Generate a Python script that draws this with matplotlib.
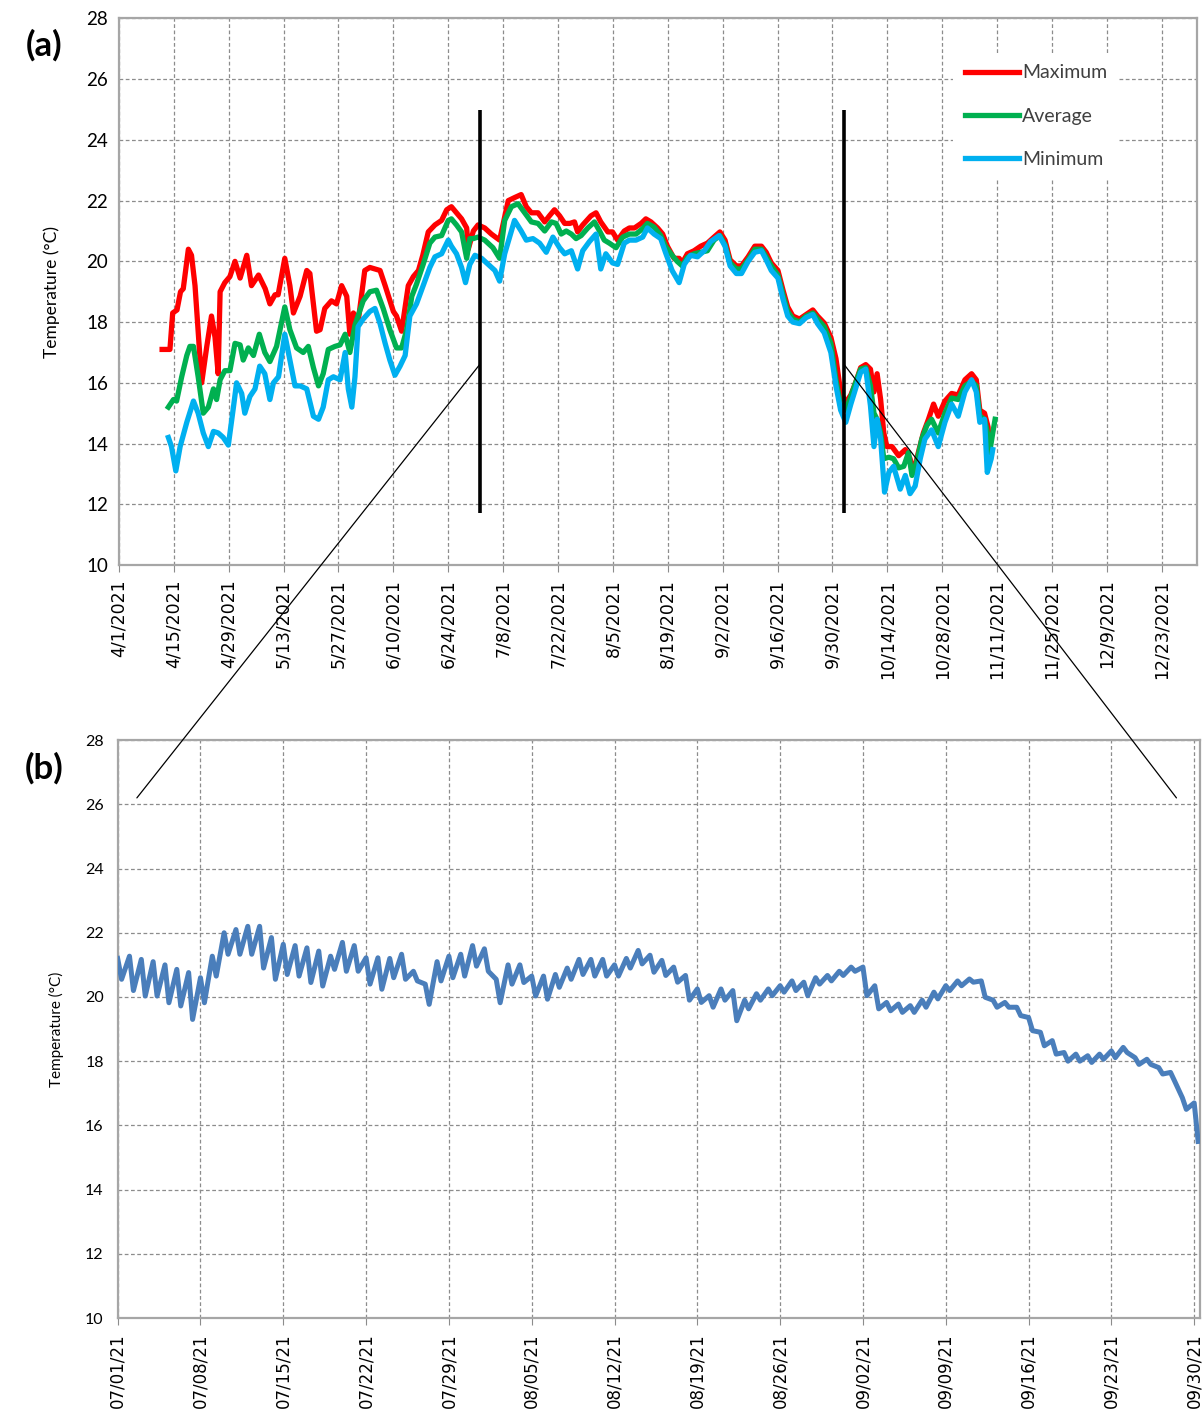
import numpy as np
import pandas as pd
import matplotlib
matplotlib.use('Agg')
import matplotlib.pyplot as plt
import matplotlib.dates as mdates
from matplotlib.patches import ConnectionPatch
from matplotlib.ticker import FuncFormatter

# ---- panel (a): daily max / avg / min, day offsets from 4/1/2021 ----
start_a = pd.Timestamp('2021-04-01')

max_days = [11.0, 13.0, 13.7, 14.8, 15.7, 16.4, 17.7, 18.5, 19.4, 21.1, 22.4, 23.6, 24.5, 25.3, 25.8, 27.0, 28.3,
            29.6, 30.9, 32.6, 33.8, 35.6, 37.3, 38.5, 39.8, 40.6, 42.3, 43.6, 44.5, 46.2, 47.9, 48.7, 50.4, 51.3,
            52.5, 54.2, 55.5, 56.8, 58.1, 58.9, 59.8, 61.0, 62.7, 64.0, 66.6, 67.9, 70.0, 70.8, 72.1, 73.8, 75.1,
            76.4, 77.5, 78.9, 80.6, 82.3, 83.6, 84.8, 86.1, 87.4, 88.7, 89.1, 90.4, 91.6, 93.3, 95.0, 97.1, 99.3,
            100.9, 102.6, 103.9, 105.2, 106.9, 108.6, 109.8, 111.1, 112.4, 113.7, 115.0, 116.2, 117.0, 118.3,
            120.4, 121.7, 122.9, 124.7, 125.9, 127.2, 128.9, 130.2, 131.5, 133.2, 134.4, 135.7, 137.4, 138.7,
            139.9, 141.6, 142.9, 143.7, 145.0, 146.7, 148.4, 150.1, 151.8, 153.3, 154.6, 155.9, 157.5, 158.8,
            160.5, 162.2, 163.9, 165.1, 166.4, 168.1, 169.4, 170.6, 171.9, 173.6, 175.3, 177.0, 178.2, 179.9,
            181.6, 182.9, 184.1, 185.4, 186.7, 187.9, 189.2, 190.5, 191.7, 192.6, 193.4, 194.3, 195.1, 195.9,
            197.2, 198.9, 200.6, 201.8, 202.7, 203.9, 205.2, 206.5, 207.8, 209.0, 210.7, 212.4, 214.1, 215.8,
            217.5, 218.7, 219.6, 220.8, 221.7, 222.1]
max_vals = [17.1, 17.1, 18.3, 18.4, 19.0, 19.1, 20.4, 20.2, 19.2, 16.0, 17.2, 18.2, 17.5, 16.3, 19.0, 19.3, 19.5,
            20.0, 19.45, 20.2, 19.2, 19.55, 19.1, 18.6, 18.9, 18.9, 20.1, 19.2, 18.3, 18.85, 19.7, 19.6, 17.7, 17.75,
            18.45, 18.7, 18.6, 19.2, 18.85, 17.6, 18.3, 18.0, 19.7, 19.8, 19.7, 19.2, 18.35, 18.2, 17.7, 19.2, 19.5,
            19.7, 20.2, 20.97, 21.2, 21.35, 21.7, 21.8, 21.6, 21.4, 21.1, 20.4, 21.0, 21.2, 21.1, 20.9, 20.7, 22.0,
            22.1, 22.2, 21.8, 21.6, 21.6, 21.3, 21.5, 21.7, 21.5, 21.25, 21.25, 21.3, 20.97, 21.2,
            21.5, 21.6, 21.3, 20.97, 20.97, 20.7, 21.0, 21.1, 21.1, 21.25, 21.4, 21.3, 21.1, 20.9,
            20.5, 20.1, 20.1, 19.95, 20.25, 20.35, 20.5, 20.6, 20.8, 20.97, 20.7, 20.05, 19.85, 19.85,
            20.15, 20.5, 20.5, 20.3, 19.95, 19.7, 19.05, 18.5, 18.2, 18.1, 18.25, 18.4, 18.2, 17.97,
            17.5, 16.8, 15.7, 15.35, 15.6, 16.0, 16.5, 16.6, 16.45, 15.7, 16.3, 15.45, 14.35, 13.9,
            13.9, 13.6, 13.8, 13.5, 13.05, 13.7, 14.35, 14.8, 15.3, 14.9, 15.4, 15.65, 15.6, 16.1,
            16.3, 16.1, 15.1, 15.0, 14.55, 13.9]

avg_days = [12.6, 13.9, 14.7, 16.0, 17.3, 18.1, 19.0, 20.2, 21.5, 22.8, 24.1, 24.9, 25.8, 27.0, 28.3, 29.6, 30.9,
            31.7, 33.0, 34.3, 35.8, 37.2, 38.5, 40.2, 42.3, 43.6, 45.3, 47.0, 48.3, 49.6, 50.9, 52.1, 53.4, 55.1,
            56.4, 57.7, 58.9, 60.2, 62.3, 64.0, 65.7, 67.4, 69.1, 70.8, 72.1, 73.4, 74.7, 75.9, 77.6, 79.3, 80.6,
            82.3, 84.0, 84.8, 86.1, 87.4, 88.7, 89.5, 90.4, 91.6, 93.3, 95.4, 97.1, 98.4, 100.1, 101.8, 103.5,
            105.2, 106.9, 108.6, 110.3, 111.5, 112.8, 114.1, 115.4, 116.6, 117.9, 119.6, 121.3, 122.6, 123.8,
            125.1, 126.8, 128.5, 130.2, 131.9, 133.6, 134.8, 136.5, 138.2, 139.4, 141.1, 142.4, 143.7, 145.0,
            146.7, 148.4, 150.1, 151.8, 153.3, 154.6, 155.9, 157.5, 158.8, 160.5, 162.2, 163.9, 165.1, 166.4,
            168.1, 169.4, 170.6, 171.9, 173.6, 175.3, 177.0, 178.2, 179.9, 181.6, 182.9, 184.1, 185.4, 186.7,
            187.9, 189.2, 190.5, 191.7, 192.6, 193.4, 194.3, 195.1, 196.4, 197.6, 198.9, 200.2, 201.4, 202.3,
            203.5, 204.8, 206.1, 207.3, 209.0, 210.7, 212.4, 214.1, 215.8, 217.5, 218.7, 219.6, 220.8, 221.7,
            222.1, 222.9, 223.5]
avg_vals = [15.2, 15.45, 15.4, 16.2, 16.9, 17.2, 17.2, 16.2, 15.0, 15.2, 15.8, 15.45, 16.1, 16.4, 16.4, 17.3, 17.25,
            16.75, 17.15, 16.9, 17.6, 17.0, 16.7, 17.2, 18.5, 17.75, 17.15, 17.0, 17.2, 16.5, 15.9, 16.3, 17.1, 17.2,
            17.25, 17.6, 17.0, 17.9, 18.7, 19.0, 19.05, 18.45, 17.75, 17.15, 17.15, 17.75, 18.85, 19.25, 19.9, 20.6,
            20.8, 20.85, 21.35, 21.4, 21.2, 20.97, 20.1, 20.75, 20.75, 20.8, 20.7, 20.45, 20.1, 21.35, 21.8, 21.9,
            21.6, 21.3, 21.25, 21.0, 21.3, 21.25, 20.9, 21.0, 20.9, 20.75, 20.85, 21.1, 21.3, 21.0, 20.7,
            20.6, 20.45, 20.8, 20.9, 20.9, 21.08, 21.25, 21.13, 20.85, 20.5, 20.2, 20.0, 19.85, 20.13,
            20.25, 20.3, 20.35, 20.7, 20.85, 20.55, 19.95, 19.75, 19.75, 20.05, 20.4, 20.4, 20.15, 19.85,
            19.55, 18.9, 18.35, 18.1, 18.0, 18.2, 18.3, 18.1, 17.85, 17.3, 16.1, 15.25, 15.1, 15.55,
            16.0, 16.45, 16.5, 15.9, 15.0, 14.8, 14.35, 13.5, 13.55, 13.5, 13.2, 13.25, 13.7, 12.95,
            13.4, 14.15, 14.6, 14.8, 14.35, 15.0, 15.5, 15.45, 15.9, 16.05, 15.9, 14.9, 14.8, 14.25,
            13.7, 14.35, 14.8]

min_days = [12.6, 13.4, 14.5, 15.6, 17.3, 19.0, 20.2, 21.5, 22.8, 24.1, 25.3, 26.6, 27.9, 29.2, 30.0, 31.3, 32.1,
            33.4, 34.7, 35.9, 37.2, 38.5, 39.4, 40.7, 42.3, 43.6, 44.9, 46.2, 47.9, 49.6, 50.9, 52.1, 53.4, 54.7,
            56.4, 57.7, 58.5, 59.4, 60.2, 61.0, 62.3, 64.0, 65.3, 66.6, 67.9, 69.1, 70.4, 71.7, 73.0, 74.2, 75.9,
            77.6, 79.3, 80.6, 82.3, 84.0, 84.8, 86.1, 87.4, 88.4, 89.5, 90.8, 92.5, 94.2, 95.9, 97.1, 98.4, 100.9,
            102.6, 103.9, 105.6, 107.3, 109.0, 110.7, 112.4, 113.7, 115.4, 117.0, 118.3, 120.0, 121.7, 122.9,
            124.2, 125.9, 127.2, 128.9, 130.2, 131.9, 133.6, 134.8, 136.5, 138.2, 139.4, 141.1, 142.9, 144.2,
            145.8, 147.6, 149.3, 150.9, 153.1, 154.6, 155.9, 157.5, 158.8, 160.5, 162.2, 163.9, 165.1, 166.4,
            168.1, 169.4, 170.6, 171.9, 173.6, 175.3, 177.0, 178.2, 179.9, 181.6, 182.9, 184.1, 185.4, 186.7,
            187.9, 189.2, 190.5, 191.7, 192.6, 193.4, 194.3, 195.3, 196.4, 197.6, 199.3, 200.6, 201.8, 203.1,
            204.4, 205.6, 207.3, 209.0, 210.7, 212.4, 214.1, 215.8, 217.5, 218.7, 219.6, 220.8, 221.5, 222.5,
            222.9]
min_vals = [14.2, 13.9, 13.1, 13.9, 14.7, 15.4, 15.0, 14.35, 13.9, 14.4, 14.35, 14.2, 13.95, 15.2, 16.0, 15.65, 15.0,
            15.55, 15.8, 16.55, 16.3, 15.45, 16.0, 16.2, 17.6, 16.75, 15.9, 15.9, 15.8, 14.9, 14.8, 15.2, 16.1, 16.2,
            16.1, 17.0, 15.8, 15.2, 16.2, 17.85, 18.1, 18.35, 18.45, 17.95, 17.3, 16.75, 16.25, 16.55, 16.9, 18.2, 18.6,
            19.2, 19.8, 20.15, 20.25, 20.7, 20.5, 20.25, 19.8, 19.3, 19.9, 20.2, 20.1, 19.9, 19.7, 19.35, 20.25, 21.35,
            21.0, 20.7, 20.75, 20.6, 20.3, 20.8, 20.45, 20.25, 20.35, 19.75, 20.35, 20.65, 20.9, 19.75,
            20.25, 19.95, 19.9, 20.6, 20.7, 20.7, 20.8, 21.1, 20.9, 20.75, 20.3, 19.7, 19.3, 19.9,
            20.2, 20.15, 20.35, 20.65, 20.85, 20.5, 19.85, 19.6, 19.6, 20.0, 20.3, 20.35, 20.05, 19.7,
            19.45, 18.75, 18.2, 18.0, 17.95, 18.15, 18.25, 17.95, 17.65, 17.0, 15.9, 15.1, 14.7, 15.3,
            15.8, 16.35, 16.45, 15.25, 13.9, 14.8, 14.15, 12.4, 13.05, 13.25, 12.5, 12.95, 12.35, 12.6,
            13.5, 14.15, 14.45, 13.9, 14.7, 15.3, 14.9, 15.7, 16.1, 15.7, 14.7, 14.8, 13.05, 13.5,
            13.8]

# ---- panel (b): 7/1/21 - 9/30/21, daily high / low of the fine-resolution record ----
start_b = pd.Timestamp('2021-07-01')
peak_hour = 0
dip_hour = 8
b_hi = [21.2, 21.27, 21.17, 21.1, 21.0, 20.86, 20.76, 20.6, 21.27, 22.0,
        22.1, 22.2, 22.2, 21.85, 21.64, 21.6, 21.53, 21.43, 21.27, 21.7,
        21.6, 21.22, 21.22, 21.2, 21.33, 20.8, 20.4, 21.1, 21.27, 21.33,
        21.6, 21.5, 20.55, 21.0, 21.0, 20.65, 20.65, 20.7, 20.9, 21.17,
        21.17, 21.17, 21.0, 21.2, 21.45, 21.3, 21.14, 20.93, 20.67, 20.25,
        20.04, 20.25, 20.2, 19.9, 20.1, 20.25, 20.35, 20.5, 20.46, 20.6,
        20.67, 20.8, 20.93, 20.93, 20.35, 19.83, 19.78, 19.73, 19.9, 20.15,
        20.35, 20.5, 20.56, 20.5, 19.9, 19.83, 19.68, 19.36, 18.9, 18.64,
        18.27, 18.22, 18.17, 18.22, 18.32, 18.43, 18.11, 18.06, 17.8, 17.65,
        16.86, 16.7]
b_lo = [20.55, 20.2, 20.03, 20.03, 19.82, 19.72, 19.3, 19.82, 20.65, 21.33,
        21.33, 21.33, 20.9, 20.55, 20.7, 20.65, 20.45, 20.34, 20.86, 20.8,
        20.8, 20.4, 20.24, 20.6, 20.55, 20.5, 19.77, 20.5, 20.6, 20.65,
        20.96, 20.8, 19.82, 20.4, 20.45, 20.03, 19.93, 20.3, 20.55, 20.7,
        20.65, 20.65, 20.65, 20.9, 21.03, 20.77, 20.67, 20.46, 19.9, 19.83,
        19.68, 19.9, 19.26, 19.63, 19.9, 20.04, 20.15, 20.2, 20.04, 20.4,
        20.5, 20.67, 20.8, 20.04, 19.63, 19.57, 19.52, 19.52, 19.68, 19.94,
        20.2, 20.35, 20.46, 19.99, 19.68, 19.68, 19.42, 18.95, 18.48, 18.22,
        18.0, 18.0, 17.96, 18.06, 18.11, 18.27, 17.9, 17.9, 17.6, 17.39,
        16.5, 15.5]

# zoom window marks on panel (a) and where the guide lines land on panel (b)
zoom_start = pd.Timestamp('2021-07-02')
zoom_end = pd.Timestamp('2021-10-03')
mark_low, mark_high = 11.7, 25.0
guide_a = 16.6
guide_b = 26.2
guide_b_left = pd.Timestamp('2021-07-02 15:00')
guide_b_right = pd.Timestamp('2021-09-28 12:00')

tick_font = ['DejaVu Sans']
main_font = ['Lato', 'DejaVu Sans']
grid_kw = dict(color='#8c8c8c', linestyle=(0, (3, 2)), linewidth=0.9)


def to_dates(base, days):
    return base + pd.to_timedelta(np.array(days), unit='D')


fig = plt.figure(figsize=(12.03, 14.2), dpi=100)

# ---------------- panel (a) ----------------
ax1 = fig.add_axes([0.0989, 0.6021, 0.8961, 0.3849])
ax1.plot(to_dates(start_a, max_days), max_vals, color='#ff0000', lw=3.8, label='Maximum', zorder=3)
ax1.plot(to_dates(start_a, avg_days), avg_vals, color='#00b050', lw=3.8, label='Average', zorder=4)
ax1.plot(to_dates(start_a, min_days), min_vals, color='#00b0f0', lw=3.8, label='Minimum', zorder=5)
ax1.vlines([zoom_start, zoom_end], mark_low, mark_high, color='black', lw=2.6, zorder=6)

ax1.set_xlim(start_a, pd.Timestamp('2022-01-01'))
ax1.set_ylim(10, 28)
ax1.set_yticks(np.arange(10, 29, 2))
ax1.set_xticks(pd.date_range('2021-04-01', '2021-12-23', freq='14D'))
ax1.xaxis.set_major_formatter(FuncFormatter(
    lambda v, p: (lambda d: f'{d.month}/{d.day}/{d.year}')(mdates.num2date(v))))
ax1.grid(True, **grid_kw)
ax1.set_axisbelow(True)
ax1.tick_params(axis='x', length=5, color='#8c8c8c', pad=5, labelrotation=90, labelsize=12.5)
ax1.tick_params(axis='y', length=0, pad=8, labelsize=13.5)
for t in ax1.get_xticklabels():
    t.set_family(tick_font)
for t in ax1.get_yticklabels():
    t.set_family(main_font)
ax1.set_ylabel('Temperature (°C)', fontsize=12.5, family=main_font)
ax1.yaxis.set_label_coords(-0.055, 0.5)
for s in ax1.spines.values():
    s.set_color('#a6a6a6')
    s.set_linewidth(1.6)

leg = ax1.legend(loc='upper left', bbox_to_anchor=(0.765, 0.955), frameon=True,
                 facecolor='white', edgecolor='none', framealpha=1, handlelength=2.8,
                 handletextpad=0.15, labelspacing=1.35, borderpad=0.6, fancybox=False,
                 prop={'family': main_font, 'size': 14})
for t in leg.get_texts():
    t.set_color('#404040')

fig.text(0.037, 1 - 45 / 1420, '(a)', fontsize=25, fontweight='bold', family=main_font,
         ha='center', va='center')

# ---------------- panel (b) ----------------
ax2 = fig.add_axes([0.0978, 0.0718, 0.8998, 0.4070])
b_times = []
b_vals = []
for k in range(len(b_hi)):
    day = start_b + pd.Timedelta(days=k)
    b_times += [day + pd.Timedelta(hours=peak_hour), day + pd.Timedelta(hours=dip_hour)]
    b_vals += [b_hi[k], b_lo[k]]
ax2.plot(b_times, b_vals, color='#4a7ebb', lw=3.6, zorder=3)

ax2.set_xlim(start_b, pd.Timestamp('2021-09-30 12:00'))
ax2.set_ylim(10, 28)
ax2.set_yticks(np.arange(10, 29, 2))
ax2.set_xticks(pd.date_range('2021-07-01', '2021-09-30', freq='7D'))
ax2.xaxis.set_major_formatter(mdates.DateFormatter('%m/%d/%y'))
ax2.grid(True, **grid_kw)
ax2.set_axisbelow(True)
ax2.tick_params(axis='x', length=5, color='#8c8c8c', pad=6, labelrotation=90, labelsize=12)
ax2.tick_params(axis='y', length=0, pad=10, labelsize=11.5)
for t in ax2.get_xticklabels():
    t.set_family(tick_font)
for t in ax2.get_yticklabels():
    t.set_family(main_font)
ax2.set_ylabel('Temperature (°C)', fontsize=11, family=main_font)
ax2.yaxis.set_label_coords(-0.05, 0.5)
for s in ax2.spines.values():
    s.set_color('#a6a6a6')
    s.set_linewidth(1.6)

fig.text(0.037, 1 - 768 / 1420, '(b)', fontsize=25, fontweight='bold', family=main_font,
         ha='center', va='center')

# guide lines from the marked window in (a) down to (b)
for a_date, b_date in [(zoom_start, guide_b_left), (zoom_end, guide_b_right)]:
    con = ConnectionPatch(xyA=(mdates.date2num(a_date), guide_a), coordsA=ax1.transData,
                          xyB=(mdates.date2num(b_date), guide_b), coordsB=ax2.transData,
                          color='black', lw=0.9, zorder=10)
    fig.add_artist(con)

fig.savefig('out.png', dpi=100)
